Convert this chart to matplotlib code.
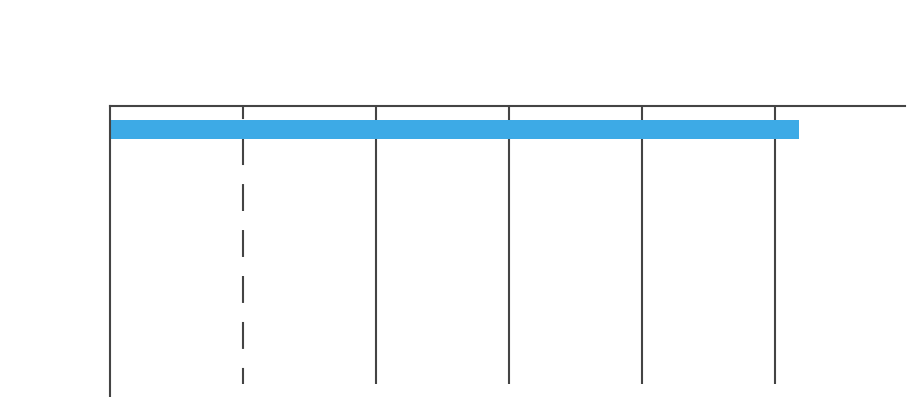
import matplotlib.pyplot as plt

plt.rcParams['lines.scale_dashes'] = False

# data
value = 103.6
target = 20
ticks = [0, 20, 40, 60, 80, 100]
xmax = 119.5

fig = plt.figure(figsize=(9.17, 3.97), dpi=100)
ax = fig.add_axes([110/917, 0, 795/917, 291/397])

ax.set_xlim(0, xmax)
ax.set_ylim(291, 0)

line_col = '#444444'

# gridlines (solid ones)
for t in ticks[1:]:
    if t == target:
        continue
    ax.plot([t, t], [0, 278], color=line_col, lw=1.5, solid_capstyle='butt', zorder=1)

# target line dashed
ax.plot([target, target], [0, 278], color=line_col, lw=1.5,
        linestyle=(10, (19.4, 13.7)), dash_capstyle='butt', zorder=1)

# bar
ax.barh([23.5], [value], height=19, color='#3DAAE6', zorder=2)

for s in ['right', 'bottom']:
    ax.spines[s].set_visible(False)
for s in ['left', 'top']:
    ax.spines[s].set_color(line_col)
    ax.spines[s].set_linewidth(1.5)
ax.set_xticks([])
ax.set_yticks([])

fig.savefig('out.png', dpi=100)
